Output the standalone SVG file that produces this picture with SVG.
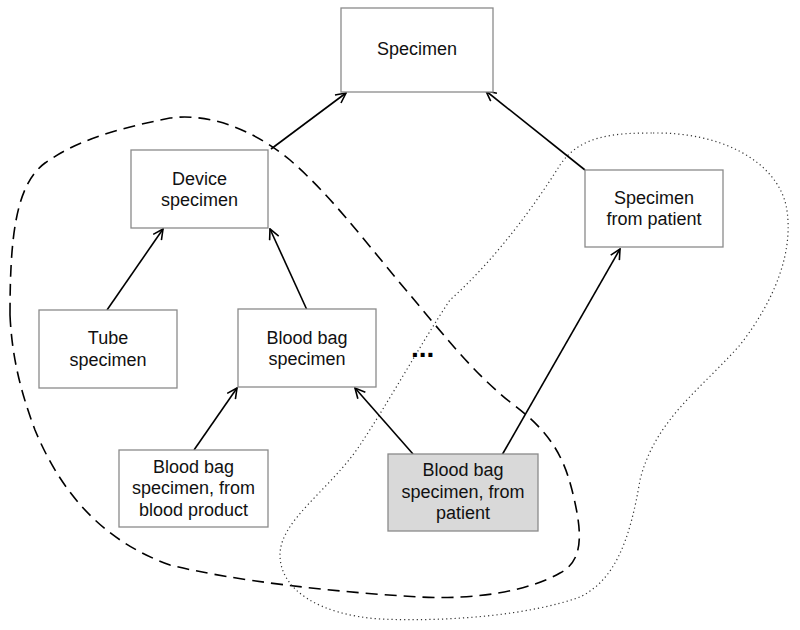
<svg xmlns="http://www.w3.org/2000/svg" width="800" height="630" viewBox="0 0 800 630">
<defs>
<style>
.box{fill:#ffffff;stroke:#8a8a8a;stroke-width:1.3}
.hl{fill:#d9d9d9;stroke:#8a8a8a;stroke-width:1.3}
.lbl{font-family:"Liberation Sans",Arial,sans-serif;font-size:18px;fill:#111;text-anchor:middle}
.edge{stroke:#000;stroke-width:1.6;fill:none;marker-end:url(#arr)}
.dash{stroke:#000;stroke-width:1.6;fill:none;stroke-dasharray:12 7}
.dot{stroke:#333;stroke-width:1.2;fill:none;stroke-dasharray:1.2 3}
</style>
<marker id="arr" viewBox="0 0 12 12" refX="11" refY="6" markerWidth="12" markerHeight="12" markerUnits="userSpaceOnUse" orient="auto">
<path d="M1,1 L11,6 L1,11" fill="none" stroke="#000" stroke-width="1.6"/>
</marker>
</defs>
<rect width="800" height="630" fill="#fff"/>
<g id="regions">
<path class="dash" d="M10,315 C10,240 15,185 45,163 C75,142 110,130 170,118 C215,112 260,135 290,160 C330,195 360,235 400,283 C440,330 470,370 510,402 C545,428 562,450 572,490 C582,530 585,560 560,573 C530,590 480,600 420,597 C330,592 230,580 170,565 C100,540 60,490 35,430 C22,395 12,360 10,315 Z"/>
<path class="dot" d="M653,133 C720,132 775,160 786,205 C795,250 775,300 740,345 C700,390 655,420 640,480 C630,540 615,580 580,597 C530,615 450,622 380,619 C320,615 280,590 280,555 C280,520 330,490 360,445 C390,400 420,345 450,300 C495,260 535,205 560,165 C580,135 615,133 653,133 Z"/>
</g>
<g id="connectors">
<line class="edge" x1="271" y1="149" x2="346" y2="93"/>
<line class="edge" x1="585" y1="170" x2="486" y2="91"/>
<line class="edge" x1="107" y1="310" x2="163" y2="229"/>
<line class="edge" x1="307" y1="310" x2="270" y2="229"/>
<line class="edge" x1="194" y1="450" x2="237" y2="388"/>
<line class="edge" x1="413" y1="454" x2="355" y2="388"/>
<line class="edge" x1="502" y1="455" x2="620" y2="249"/>
</g>
<g id="specimen">
<rect class="box" x="341" y="8" width="152" height="84"/>
<text class="lbl" x="417" y="55">Specimen</text>
</g>
<g id="device-specimen">
<rect class="box" x="131" y="150" width="137" height="78"/>
<text class="lbl" x="199.5" y="185">Device</text>
<text class="lbl" x="199.5" y="206">specimen</text>
</g>
<g id="specimen-from-patient">
<rect class="box" x="585" y="170" width="138" height="77"/>
<text class="lbl" x="654" y="204">Specimen</text>
<text class="lbl" x="654" y="225">from patient</text>
</g>
<g id="tube-specimen">
<rect class="box" x="39" y="310" width="138" height="78"/>
<text class="lbl" x="108" y="344">Tube</text>
<text class="lbl" x="108" y="366">specimen</text>
</g>
<g id="blood-bag-specimen">
<rect class="box" x="238" y="309" width="138" height="78"/>
<text class="lbl" x="307" y="344">Blood bag</text>
<text class="lbl" x="307" y="365">specimen</text>
</g>
<g id="bb-blood-product">
<rect class="box" x="119" y="450" width="149" height="77"/>
<text class="lbl" x="193.5" y="473">Blood bag</text>
<text class="lbl" x="193.5" y="494">specimen, from</text>
<text class="lbl" x="193.5" y="516">blood product</text>
</g>
<g id="bb-patient">
<rect class="hl" x="388" y="454" width="150" height="77"/>
<text class="lbl" x="463" y="476">Blood bag</text>
<text class="lbl" x="463" y="498">specimen, from</text>
<text class="lbl" x="463" y="519">patient</text>
</g>
<g id="ellipsis">
<text x="411" y="357" font-family="Liberation Sans,Arial,sans-serif" font-size="28" font-weight="bold" fill="#000">...</text>
</g>
</svg>
